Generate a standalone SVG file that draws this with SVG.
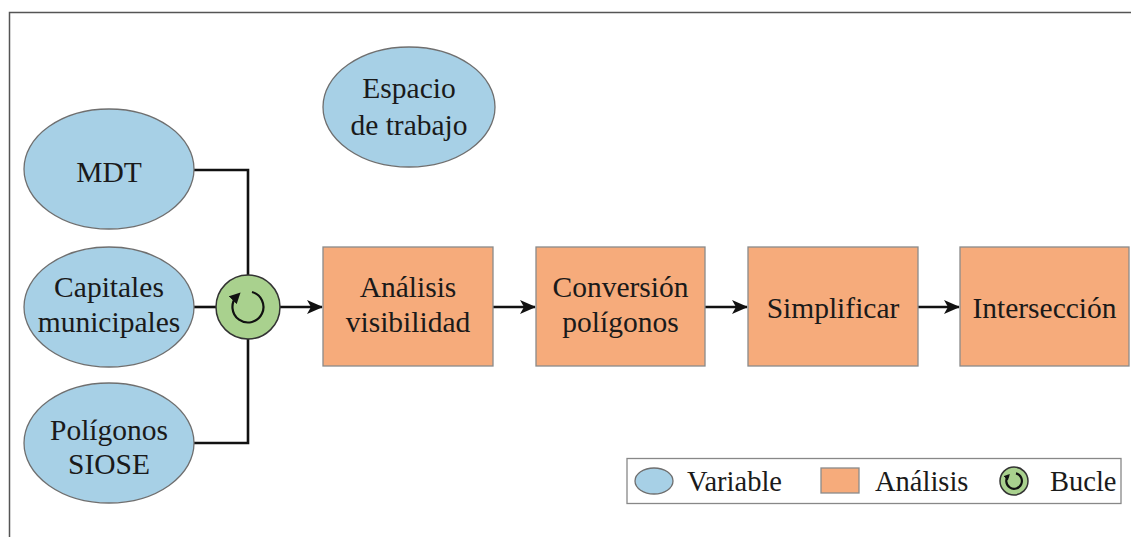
<svg xmlns="http://www.w3.org/2000/svg" width="1131" height="537" viewBox="0 0 1131 537">
<defs>
<style>
.var{fill:#a7d0e6;stroke:#6f6f6f;stroke-width:1.3}
.ana{fill:#f6ab7b;stroke:#8a8a8a;stroke-width:1.3}
.loop{fill:#a9d18e;stroke:#333;stroke-width:1.5}
.conn{fill:none;stroke:#111;stroke-width:2.6}
.t{font-family:"Liberation Serif","Times New Roman",serif;font-size:29.5px;fill:#1a1a1a;text-anchor:middle}
.lt{font-family:"Liberation Serif","Times New Roman",serif;font-size:28.5px;fill:#1a1a1a}
.icon{fill:none;stroke:#111;stroke-width:2.2}
</style>
<marker id="arr" markerUnits="userSpaceOnUse" markerWidth="16" markerHeight="14" refX="15" refY="7" orient="auto">
<path d="M0,0 L16,7 L0,14 L4,7 Z" fill="#111"/>
</marker>
<marker id="small" markerUnits="userSpaceOnUse" markerWidth="11" markerHeight="11" refX="6" refY="5.5" orient="auto">
<path d="M0,0 L11,5.5 L0,11 Z" fill="#111"/>
</marker>
<marker id="tiny" markerUnits="userSpaceOnUse" markerWidth="6" markerHeight="6" refX="4" refY="3" orient="auto">
<path d="M0,0 L6,3 L0,6 Z" fill="#111"/>
</marker>
</defs>
<rect x="0" y="0" width="1131" height="537" fill="#fff"/>
<path d="M9.5,537 V12.5 H1131" fill="none" stroke="#555" stroke-width="1.5"/>

<g id="connectors">
<path class="conn" d="M194,170 H248 V275"/>
<path class="conn" d="M194,443 H248 V339"/>
<path class="conn" d="M194,307 H216"/>
<path class="conn" d="M280,307 H322" marker-end="url(#arr)"/>
<path class="conn" d="M493,307 H535" marker-end="url(#arr)"/>
<path class="conn" d="M705,307 H747" marker-end="url(#arr)"/>
<path class="conn" d="M918,307 H959" marker-end="url(#arr)"/>
</g>

<g id="mdt">
<ellipse class="var" cx="109" cy="169" rx="85" ry="60"/>
<text class="t" x="109" y="182">MDT</text>
</g>
<g id="capitales">
<ellipse class="var" cx="109" cy="307" rx="85" ry="60"/>
<text class="t" x="109" y="297">Capitales</text>
<text class="t" x="109" y="332">municipales</text>
</g>
<g id="poligonos">
<ellipse class="var" cx="109" cy="443" rx="85" ry="60"/>
<text class="t" x="109" y="440">Polígonos</text>
<text class="t" x="109" y="474">SIOSE</text>
</g>
<g id="espacio">
<ellipse class="var" cx="409" cy="107" rx="86" ry="60"/>
<text class="t" x="409" y="98">Espacio</text>
<text class="t" x="409" y="135">de trabajo</text>
</g>
<g id="bucle">
<circle class="loop" cx="248" cy="307" r="32"/>
<path class="icon" d="M252,292 A15.5,15.5 0 1 1 237,296" marker-end="url(#small)"/>
</g>
<g id="analisis">
<rect class="ana" x="323" y="247" width="170" height="119"/>
<text class="t" x="408" y="297">Análisis</text>
<text class="t" x="408" y="332">visibilidad</text>
</g>
<g id="conversion">
<rect class="ana" x="536" y="247" width="169" height="119"/>
<text class="t" x="620.5" y="297">Conversión</text>
<text class="t" x="620.5" y="332">polígonos</text>
</g>
<g id="simplificar">
<rect class="ana" x="748" y="247" width="170" height="119"/>
<text class="t" x="833" y="318">Simplificar</text>
</g>
<g id="interseccion">
<rect class="ana" x="960" y="247" width="169" height="119"/>
<text class="t" x="1044.5" y="318">Intersección</text>
</g>

<g id="legend">
<rect x="627" y="458.5" width="494" height="45" fill="#fff" stroke="#888" stroke-width="1.3"/>
<ellipse class="var" cx="654" cy="481" rx="19" ry="13"/>
<text class="lt" x="687" y="491">Variable</text>
<rect class="ana" x="821" y="468" width="38" height="25"/>
<text class="lt" x="875" y="491">Análisis</text>
<circle class="loop" cx="1014" cy="481" r="14" stroke-width="1.2"/>
<path class="icon" stroke-width="1.5" d="M1016,473.4 A7.8,7.8 0 1 1 1008.5,475.5" marker-end="url(#tiny)"/>
<text class="lt" x="1050" y="491">Bucle</text>
</g>
</svg>
